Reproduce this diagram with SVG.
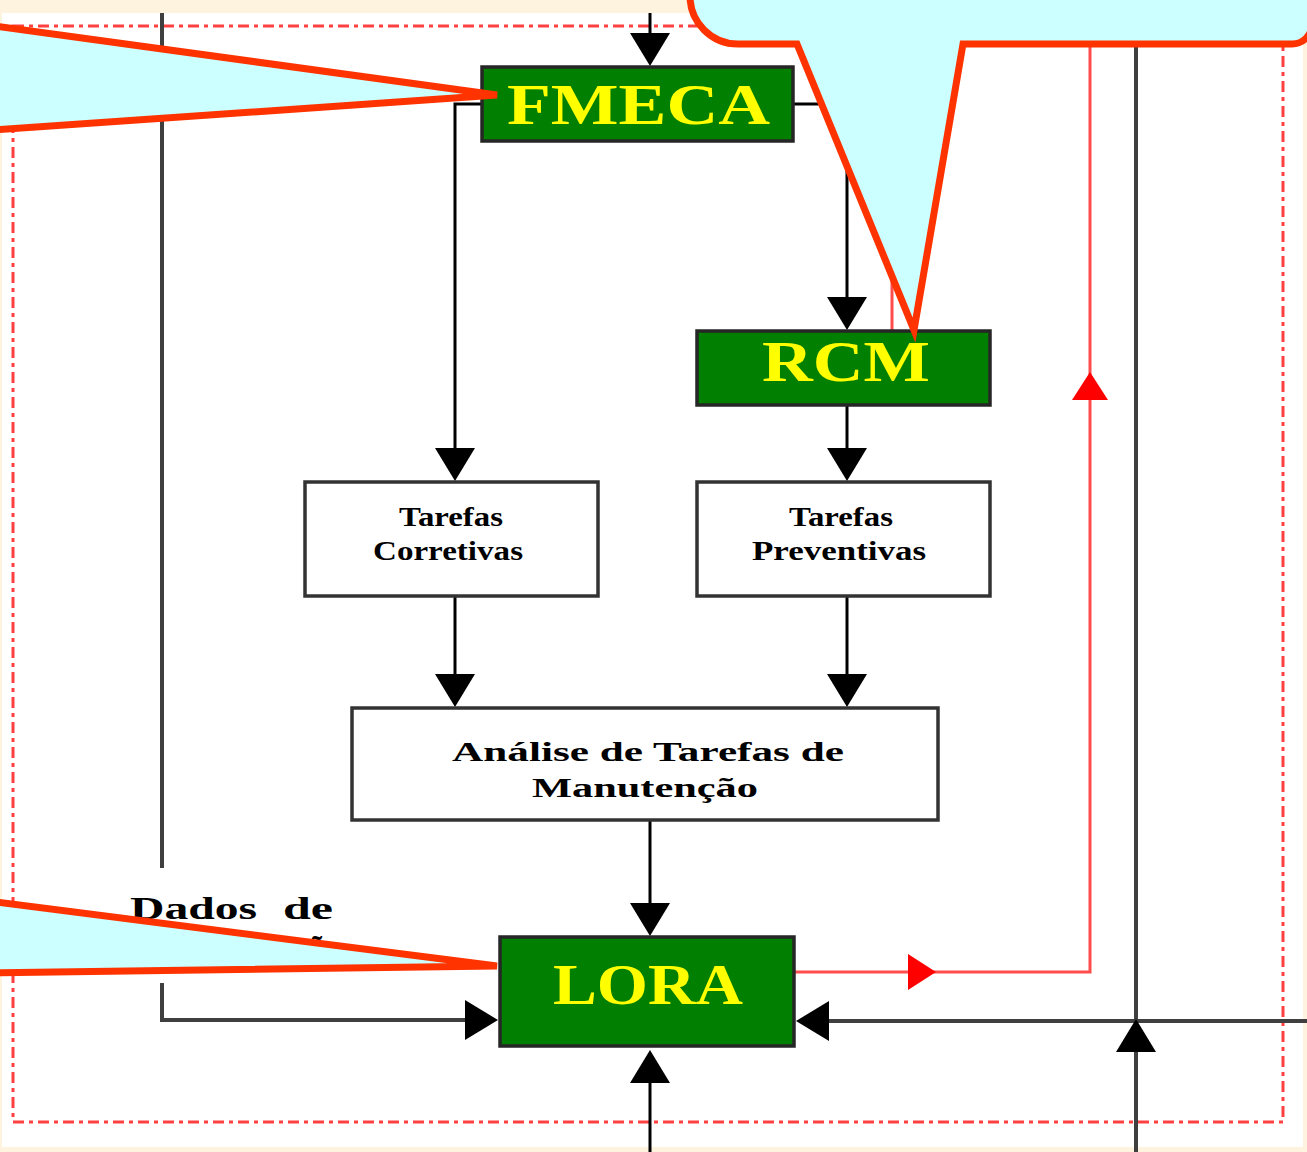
<svg xmlns="http://www.w3.org/2000/svg" width="1307" height="1152" viewBox="0 0 1307 1152">
  <style>
    .bg { fill: #fdf3df; }
    .sheet { fill: #ffffff; }
    .frame { fill: none; stroke: #ff4040; stroke-width: 3; stroke-dasharray: 11 5 4 5; }
    .green { fill: #007f00; stroke: #262626; stroke-width: 3.5; }
    .plain { fill: #ffffff; stroke: #333333; stroke-width: 3.5; }
    .big { font-family: "Liberation Serif", "DejaVu Serif", serif; font-weight: bold; font-size: 56px; fill: #ffff00; }
    .small { font-family: "Liberation Serif", "DejaVu Serif", serif; font-weight: bold; font-size: 28px; fill: #000000; }
    .label { font-family: "Liberation Serif", "DejaVu Serif", serif; font-weight: bold; font-size: 32px; fill: #000000; }
    .wire { fill: none; stroke: #000000; stroke-width: 3; }
    .grey { fill: none; stroke: #3f3f3f; stroke-width: 4; }
    .redwire { fill: none; stroke: #ff4d4d; stroke-width: 3; }
    .head { fill: #000000; }
    .redhead { fill: #ff0000; }
    .callout { fill: #ccffff; stroke: #ff3300; stroke-width: 7; stroke-linejoin: miter; }
  </style>
  <defs>
    <path id="arrow" d="M0,0 L-33,-20 L-33,20 Z"/>
    <path id="redarrow" d="M0,0 L-28,-18 L-28,18 Z"/>
  </defs>

  <!-- page -->
  <rect class="bg" x="0" y="0" width="1307" height="1152"/>
  <rect class="sheet" x="2" y="13" width="1301" height="1134"/>
  <rect class="frame" x="13" y="26" width="1270" height="1096"/>

  <!-- connectors -->
  <g id="connectors">
    <path class="grey" d="M162,13 V868"/>
    <path class="grey" d="M162,983 V1020 H465"/>
    <path class="grey" d="M1136,13 V1152"/>
    <path class="grey" d="M1307,1021 H825"/>

    <path class="wire" d="M650,13 V40"/>
    <path class="wire" d="M482,104 H455 V455"/>
    <path class="wire" d="M793,104 H847 V305"/>
    <path class="wire" d="M847,405 V455"/>
    <path class="wire" d="M455,596 V680"/>
    <path class="wire" d="M847,596 V680"/>
    <path class="wire" d="M650,820 V910"/>
    <path class="wire" d="M650,1152 V1078"/>

    <path class="redwire" d="M892,44 V331"/>
    <path class="redwire" d="M794,972 H1090 V44"/>

    <use href="#arrow" class="head" transform="translate(650,66) rotate(90)"/>
    <use href="#arrow" class="head" transform="translate(455,481) rotate(90)"/>
    <use href="#arrow" class="head" transform="translate(847,330) rotate(90)"/>
    <use href="#arrow" class="head" transform="translate(847,481) rotate(90)"/>
    <use href="#arrow" class="head" transform="translate(455,707) rotate(90)"/>
    <use href="#arrow" class="head" transform="translate(847,707) rotate(90)"/>
    <use href="#arrow" class="head" transform="translate(650,936) rotate(90)"/>
    <use href="#arrow" class="head" transform="translate(498,1020)"/>
    <use href="#arrow" class="head" transform="translate(796,1021) rotate(180)"/>
    <use href="#arrow" class="head" transform="translate(1136,1019) rotate(-90)"/>
    <use href="#arrow" class="head" transform="translate(650,1050) rotate(-90)"/>
    <use href="#redarrow" class="redhead" transform="translate(936,972)"/>
    <use href="#redarrow" class="redhead" transform="translate(1090,372) rotate(-90)"/>
  </g>

  <!-- nodes -->
  <g id="fmeca">
    <rect class="green" x="482" y="67" width="311" height="74"/>
    <text class="big" x="507" y="124" textLength="263" lengthAdjust="spacingAndGlyphs">FMECA</text>
  </g>
  <g id="rcm">
    <rect class="green" x="697" y="331" width="293" height="74"/>
    <text class="big" x="762" y="381" textLength="168" lengthAdjust="spacingAndGlyphs">RCM</text>
  </g>
  <g id="tarefas-corretivas">
    <rect class="plain" x="305" y="482" width="293" height="114"/>
    <text class="small" x="451" y="526" text-anchor="middle" textLength="104" lengthAdjust="spacingAndGlyphs">Tarefas</text>
    <text class="small" x="448" y="560" text-anchor="middle" textLength="150" lengthAdjust="spacingAndGlyphs">Corretivas</text>
  </g>
  <g id="tarefas-preventivas">
    <rect class="plain" x="697" y="482" width="293" height="114"/>
    <text class="small" x="841" y="526" text-anchor="middle" textLength="104" lengthAdjust="spacingAndGlyphs">Tarefas</text>
    <text class="small" x="839" y="560" text-anchor="middle" textLength="174" lengthAdjust="spacingAndGlyphs">Preventivas</text>
  </g>
  <g id="analise">
    <rect class="plain" x="352" y="708" width="586" height="112"/>
    <text class="small" x="648" y="761" text-anchor="middle" textLength="392" lengthAdjust="spacingAndGlyphs">Análise de Tarefas de</text>
    <text class="small" x="645" y="797" text-anchor="middle" textLength="226" lengthAdjust="spacingAndGlyphs">Manutenção</text>
  </g>
  <g id="lora">
    <rect class="green" x="500" y="937" width="294" height="109"/>
    <text class="big" x="553" y="1004" textLength="190" lengthAdjust="spacingAndGlyphs">LORA</text>
  </g>
  <g id="dados">
    <text class="label" x="130" y="919" textLength="127" lengthAdjust="spacingAndGlyphs">Dados</text>
    <text class="label" x="283" y="919" textLength="50" lengthAdjust="spacingAndGlyphs">de</text>
    <text class="label" x="341" y="958" text-anchor="end">Manutenção</text>
  </g>

  <!-- speech balloons -->
  <g id="balloon-top-left">
    <path class="callout" d="M-20,24 L497,95 L-20,131 Z"/>
  </g>
  <g id="balloon-top-right">
    <path class="callout" d="M690,-20 V-4 A48,48 0 0 0 738,44 H797 L914,330 L963,44 H1292 A20,20 0 0 0 1312,24 V-20 Z"/>
  </g>
  <g id="balloon-bottom-left">
    <path class="callout" d="M-20,900 L497,966 L-20,973 Z"/>
  </g>
</svg>
